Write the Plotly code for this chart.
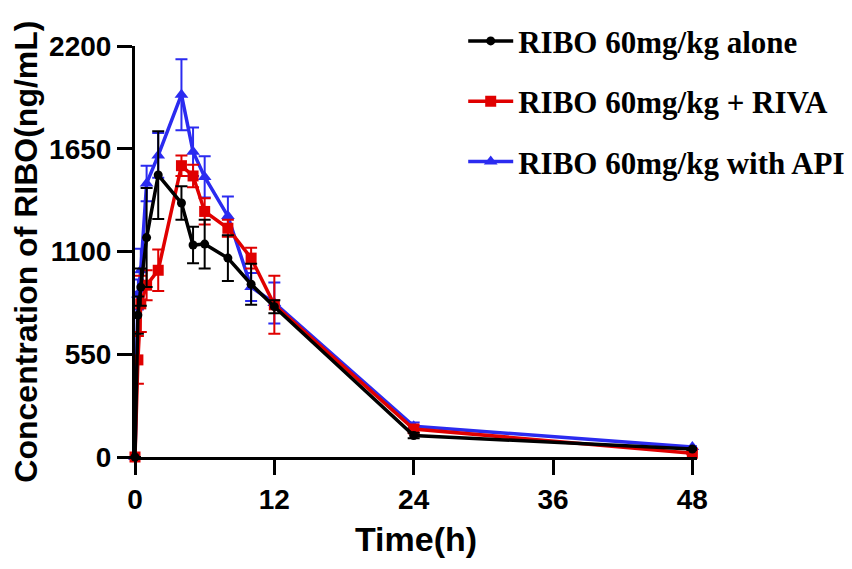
import plotly.graph_objects as go

# sampling times (h)
time_h = [0, 0.25, 0.5, 1, 2, 4, 5, 6, 8, 10, 12, 24, 48]

# RIBO 60mg/kg alone
alone_mean = [0, 760, 910, 1175, 1510, 1360, 1135, 1140, 1065, 925, 805, 115, 43]
alone_sd = [0, 100, 100, 265, 235, 90, 98, 130, 122, 110, 35, 15, 5]

# RIBO 60mg/kg + RIVA
riva_mean = [0, 520, 820, 920, 1000, 1560, 1505, 1315, 1225, 1065, 815, 150, 20]
riva_sd = [0, 128, 150, 80, 111, 55, 60, 70, 45, 55, 155, 20, 5]

# RIBO 60mg/kg with API
api_mean = [0, 870, 1000, 1465, 1615, 1940, 1635, 1500, 1290, 910, 825, 165, 53]
api_sd = [0, 80, 115, 95, 120, 190, 130, 110, 105, 75, 110, 20, 5]

x_ticks = [0, 12, 24, 36, 48]
y_ticks = [0, 550, 1100, 1650, 2200]

series = [
    ("RIBO 60mg/kg with API", api_mean, api_sd, "#2b2bf0", "triangle-up", 12, 3),
    ("RIBO 60mg/kg + RIVA", riva_mean, riva_sd, "#e00000", "square", 11, 2),
    ("RIBO 60mg/kg alone", alone_mean, alone_sd, "#000000", "circle", 9, 1),
]

fig = go.Figure()
for name, mean, sd, color, symbol, msize, rank in series:
    fig.add_trace(go.Scatter(
        x=time_h,
        y=mean,
        name=name,
        mode="lines+markers",
        line=dict(color=color, width=3.5),
        marker=dict(color=color, symbol=symbol, size=msize),
        error_y=dict(type="data", array=sd, visible=True, color=color, thickness=2, width=6),
        legendgroup=name,
        legendrank=rank,
        cliponaxis=False,
    ))

sans = "Liberation Sans, Arial"
tick_font = dict(family=sans, size=28, color="black", weight="bold")

axis_style = dict(
    showgrid=False,
    zeroline=False,
    showline=True,
    linecolor="black",
    linewidth=3,
    ticks="outside",
    ticklen=15,
    tickwidth=3,
    tickcolor="black",
    tickfont=tick_font,
    automargin=False,
)

# the html page body has an 8px margin, so the figure is placed 8px in.
# top margin is 0 and the y domain leaves room for the legend, so the
# legend stays inside the paper and does not push the margins
fig.update_layout(
    width=852,
    height=569,
    template="plotly_white",
    plot_bgcolor="white",
    paper_bgcolor="white",
    margin=dict(l=127, r=163, t=0, b=120),
    legend=dict(
        x=0.584,
        y=0.986,
        xanchor="left",
        yanchor="top",
        traceorder="grouped",
        tracegroupgap=17,
        itemwidth=45,
        bgcolor="rgba(0,0,0,0)",
        font=dict(family="Liberation Serif, Times New Roman", size=31, color="black", weight="bold"),
    ),
    xaxis=dict(
        axis_style,
        range=[0, 48.4],
        tickvals=x_ticks,
        title=dict(text="Time(h)", font=dict(family=sans, size=34, color="black", weight="bold"), standoff=14),
    ),
    yaxis=dict(
        axis_style,
        range=[0, 2200],
        domain=[0, 0.915],
        tickvals=y_ticks,
        title=dict(text="Concentration of RIBO(ng/mL)", font=dict(family=sans, size=32, color="black", weight="bold"), standoff=18),
    ),
)

fig.write_html("out.html")
